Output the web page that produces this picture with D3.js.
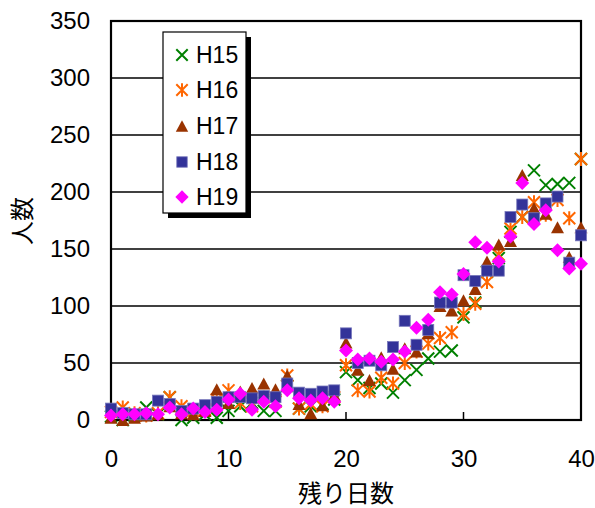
<!DOCTYPE html>
<html><head><meta charset="utf-8">
<script src="https://cdn.jsdelivr.net/npm/d3@7"></script>
<style>
html,body{margin:0;padding:0;background:#fff;}
svg{display:block;font-family:"Liberation Sans","Noto Sans CJK JP",sans-serif;}
</style></head>
<body><svg id="c" width="595" height="508"></svg>
<script>
const days = d3.range(0, 41);
const seriesNames = ["H15","H16","H17","H18","H19"];
const H15 = [3,0,4,11,5,20,0,2,5,2,8,12,15,8,8,30,10,12,14,18,42,35,28,32,24,35,44,54,60,61,90,103,130,142,165,178,219,206,207,208,229];
const H16 = [7,11,6,4,6,20,12,8,9,18,26,15,12,20,16,39,10,14,12,20,48,26,25,37,32,50,60,67,72,77,93,102,121,145,168,178,191,180,193,177,229];
const H17 = [2,0,2,4,5,12,6,5,8,27,15,25,28,32,27,39,14,6,13,22,68,44,35,55,45,63,60,76,100,96,105,115,139,154,157,215,186,181,169,143,169];
const H18 = [10,6,5,5,17,14,8,10,13,16,20,20,19,21,20,32,24,23,25,26,76,50,52,48,64,87,66,79,103,103,127,122,131,131,178,189,177,190,196,138,162];
const H19 = [4,5,5,6,5,11,5,10,7,9,18,23,9,16,12,26,19,17,19,16,61,53,54,51,53,60,81,88,112,110,128,156,151,139,161,208,172,184,149,133,137];
const seriesValues = [H15,H16,H17,H18,H19];
const xTicks = [0,10,20,30,40];
const yTicks = [0,50,100,150,200,250,300,350];
const colors = ["#008000","#FF6600","#993300","#333399","#FF00FF"];
const shapes = ["x","star","tri","sq","dia"];

const svg = d3.select("#c");
const L = 111, R = 581, T = 21, B = 420;
const x = d3.scaleLinear().domain([0,40]).range([L,R]);
const y = d3.scaleLinear().domain([0,350]).range([B,T]);

// gridlines
svg.append("g").selectAll("line").data(yTicks.filter(v=>v>0)).join("line")
  .attr("x1",L).attr("x2",R).attr("y1",d=>y(d)).attr("y2",d=>y(d))
  .attr("stroke","#000").attr("stroke-width",1.5);

// y axis labels
const yAxis = d3.axisLeft(y).tickValues(yTicks).tickSize(0).tickPadding(21);
const gy = svg.append("g").attr("transform",`translate(${L},0)`).call(yAxis);
gy.select(".domain").remove();
gy.selectAll("text").attr("font-size",24).attr("font-family","Liberation Sans").attr("fill","#000");

// x axis
const xAxis = d3.axisBottom(x).tickValues(xTicks).tickSize(0).tickPadding(30);
const gx = svg.append("g").attr("transform",`translate(0,${B})`).call(xAxis);
gx.select(".domain").remove();
gx.selectAll("text").attr("font-size",24).attr("font-family","Liberation Sans").attr("fill","#000");
// inward ticks
svg.append("g").selectAll("line").data([10,20,30]).join("line")
  .attr("x1",d=>x(d)).attr("x2",d=>x(d)).attr("y1",B).attr("y2",B-8)
  .attr("stroke","#000").attr("stroke-width",1.5);

// frame
svg.append("rect").attr("x",L).attr("y",T).attr("width",R-L).attr("height",B-T)
  .attr("fill","none").attr("stroke","#000").attr("stroke-width",2.2);

// axis titles
svg.append("text").attr("x",346).attr("y",502).attr("text-anchor","middle")
  .attr("font-size",24).attr("font-family","Noto Sans CJK JP").text("残り日数");
svg.append("text").attr("transform","translate(31,221) rotate(-90)").attr("text-anchor","middle")
  .attr("font-size",24).attr("font-family","Noto Sans CJK JP").text("人数");

function drawMarker(g, shape, color, cx, cy, scale){
  const s = scale||1;
  if(shape==="x"){
    const h=6*s;
    g.append("path").attr("d",`M${cx-h},${cy-h}L${cx+h},${cy+h}M${cx-h},${cy+h}L${cx+h},${cy-h}`)
      .attr("stroke",color).attr("stroke-width",2).attr("fill","none");
  } else if(shape==="star"){
    const h=6*s;
    g.append("path").attr("d",`M${cx-h},${cy-h}L${cx+h},${cy+h}M${cx-h},${cy+h}L${cx+h},${cy-h}M${cx},${cy-h-1}L${cx},${cy+h+1}`)
      .attr("stroke",color).attr("stroke-width",2).attr("fill","none");
  } else if(shape==="tri"){
    const w=6.5*s, hh=6*s;
    g.append("path").attr("d",`M${cx},${cy-hh}L${cx+w},${cy+hh}L${cx-w},${cy+hh}Z`).attr("fill",color);
  } else if(shape==="sq"){
    const h=5.5*s;
    g.append("rect").attr("x",cx-h).attr("y",cy-h).attr("width",2*h).attr("height",2*h)
      .attr("fill",color).attr("stroke","#7777bb").attr("stroke-width",0.8);
  } else if(shape==="dia"){
    const h=7*s;
    g.append("path").attr("d",`M${cx},${cy-h}L${cx+h},${cy}L${cx},${cy+h}L${cx-h},${cy}Z`).attr("fill",color);
  }
}

// data points
seriesValues.forEach((vals,i)=>{
  const g = svg.append("g");
  vals.forEach((v,j)=>drawMarker(g, shapes[i], colors[i], x(days[j]), y(v)));
});

// legend
const lg = svg.append("g");
lg.append("rect").attr("x",168).attr("y",37).attr("width",83).attr("height",181).attr("fill","#000");
lg.append("rect").attr("x",163).attr("y",32).attr("width",83).attr("height",181)
  .attr("fill","#fff").attr("stroke","#000").attr("stroke-width",1.2);
const legY = [55,90,126,162,197];
seriesNames.forEach((n,i)=>{
  drawMarker(lg, shapes[i], colors[i], 182, legY[i], 0.95);
  lg.append("text").attr("x",196).attr("y",legY[i]+8).attr("font-size",23)
    .attr("font-family","Liberation Sans").text(n);
});
</script></body></html>
